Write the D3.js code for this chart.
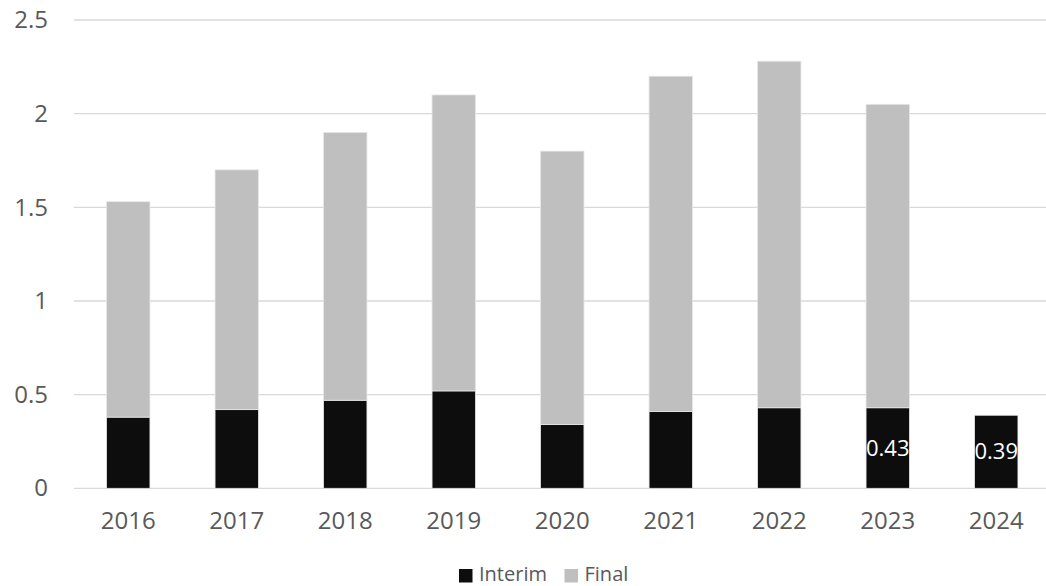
<!DOCTYPE html>
<html>
<head>
<meta charset="utf-8">
<script src="https://cdn.jsdelivr.net/npm/d3@7"></script>
<style>
  html, body { margin: 0; padding: 0; background: #fff; }
  svg text { font-family: "Open Sans", "Noto Sans", sans-serif; }
</style>
</head>
<body>
<div id="chart"></div>
<script>
const years = ["2016", "2017", "2018", "2019", "2020", "2021", "2022", "2023", "2024"];
const interim = [0.38, 0.42, 0.47, 0.52, 0.34, 0.41, 0.43, 0.43, 0.39];
const final = [1.15, 1.28, 1.43, 1.58, 1.46, 1.79, 1.85, 1.62, 0];
const yTicks = [0, 0.5, 1, 1.5, 2, 2.5];
const labelled = ["2023", "2024"]; // only these have a value shown

const width = 1046, height = 586;
const margin = { top: 20, right: -4.5, bottom: 97.7, left: 74 };

const svg = d3.select("#chart").append("svg")
    .attr("width", width)
    .attr("height", height);

const x = d3.scaleBand()
    .domain(years)
    .range([margin.left, width - margin.right])
    .paddingInner(0.6)
    .paddingOuter(0.3);

const y = d3.scaleLinear()
    .domain([0, 2.5])
    .range([height - margin.bottom, margin.top]);

// gridlines
svg.append("g")
    .selectAll("line")
    .data(yTicks)
    .join("line")
    .attr("x1", margin.left)
    .attr("x2", width)
    .attr("y1", d => y(d))
    .attr("y2", d => y(d))
    .attr("stroke", "#d9d9d9")
    .attr("stroke-width", 1.3);

// y axis labels
const yAxis = d3.axisLeft(y).tickValues(yTicks).tickSize(0).tickPadding(0)
    .tickFormat(d3.format("~g"));
svg.append("g")
    .attr("transform", `translate(48,0)`)
    .call(yAxis)
    .call(g => g.select(".domain").remove())
    .selectAll("text")
    .attr("font-size", 24)
    .attr("fill", "#595959");

// x axis labels
const xAxis = d3.axisBottom(x).tickSize(0).tickPadding(0);
svg.append("g")
    .attr("transform", `translate(0,${y(0) + 24})`)
    .call(xAxis)
    .call(g => g.select(".domain").remove())
    .selectAll("text")
    .attr("font-size", 24)
    .attr("fill", "#595959");

// stacked bars
const rows = years.map((yr, i) => ({ year: yr, Interim: interim[i], Final: final[i] }));
const stack = d3.stack().keys(["Interim", "Final"]);
const series = stack(rows);
const colors = { Interim: "#0d0d0d", Final: "#bfbfbf" };

svg.append("g")
    .selectAll("g")
    .data(series)
    .join("g")
    .attr("fill", d => colors[d.key])
    .selectAll("rect")
    .data(d => d.filter(p => p[1] - p[0] > 0))
    .join("rect")
    .attr("x", d => x(d.data.year))
    .attr("y", d => y(d[1]))
    .attr("width", x.bandwidth())
    .attr("height", d => y(d[0]) - y(d[1]))
    .attr("stroke", "#e6e6e6")
    .attr("stroke-width", 0.8);

// data labels
svg.append("g")
    .selectAll("text")
    .data(rows.filter(r => labelled.includes(r.year)))
    .join("text")
    .attr("x", d => x(d.year) + x.bandwidth() / 2)
    .attr("y", d => (y(0) + y(d.Interim)) / 2)
    .attr("dy", "0.35em")
    .attr("text-anchor", "middle")
    .attr("font-size", 22)
    .attr("fill", "#ffffff")
    .text(d => d3.format(".2f")(d.Interim));

// legend
const legendItems = [
    { name: "Interim", color: colors.Interim, x: 459 },
    { name: "Final", color: colors.Final, x: 564.5 }
];
const lg = svg.append("g")
    .selectAll("g")
    .data(legendItems)
    .join("g")
    .attr("transform", d => `translate(${d.x},569)`);
lg.append("rect")
    .attr("width", 13.5)
    .attr("height", 13.5)
    .attr("fill", d => d.color);
lg.append("text")
    .attr("x", 20)
    .attr("y", 12)
    .attr("font-size", 20)
    .attr("fill", "#595959")
    .text(d => d.name);
</script>
</body>
</html>
